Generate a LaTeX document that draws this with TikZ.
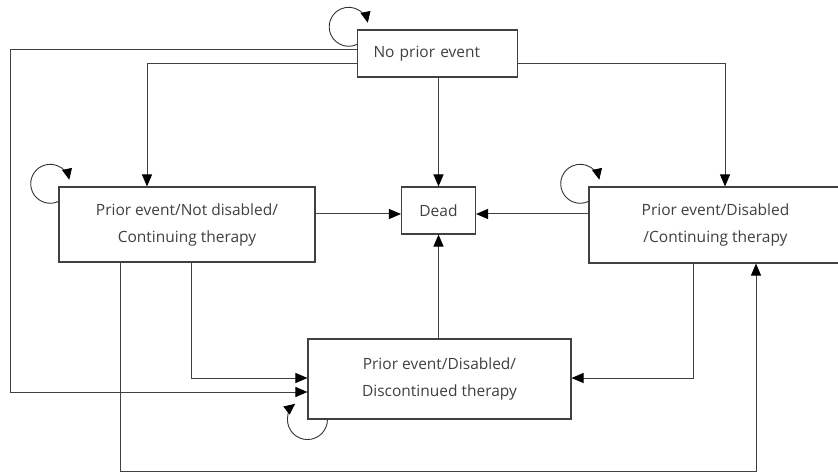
\documentclass[tikz,border=0pt]{standalone}
\usepackage{fontspec}
\setmainfont{Open Sans}
\usepackage{tikz}
\usetikzlibrary{arrows.meta}

\begin{document}
\begin{tikzpicture}[x=1pt,y=1pt,
  state/.style={draw=black!75,line width=1.1pt,fill=white,align=center,
    text=black!75,inner sep=0pt,font=\fontsize{15.5}{27}\selectfont},
  tr/.style={draw=black!75,line width=1pt,-{Triangle[length=12pt,width=10pt,black]}},
  selfloop/.style={draw=black!80,line width=0.9pt,-{Triangle[length=11pt,width=10pt,black]}}]
  \useasboundingbox (0,0) rectangle (838,472);
  % states
  \node[state,minimum width=160pt,minimum height=47pt,align=left,text width=128pt,inner xsep=16pt]
    (noevent) at (437.5,418.5) {No prior event};
  \node[state,minimum width=74pt,minimum height=47pt] (dead) at (438.5,261.5) {Dead};
  \node[state,minimum width=256pt,minimum height=75pt] (pnd) at (187,247.5)
    {Prior event/Not disabled/\\Continuing therapy};
  \node[state,minimum width=253pt,minimum height=76pt] (pdc) at (715.5,247)
    {Prior event/Disabled\\/Continuing therapy};
  \node[state,minimum width=263pt,minimum height=80pt] (pdd) at (439.5,93)
    {Prior event/Disabled/\\Discontinued therapy};
  \coordinate (dw) at ([yshift=-3.5pt]dead.west);
  % self transitions
  \foreach \s in {noevent,pnd,pdc}
    \draw[selfloop] ([yshift=-15pt]\s.north west) arc[start angle=-65,end angle=-348,radius=19.5pt];
  \draw[selfloop] ([xshift=20pt]pdd.south west) arc[start angle=0,end angle=-232,radius=20pt];
  % transitions
  \draw[tr] ([yshift=3.5pt]noevent.west) -- ++(-346pt,0) |- ([yshift=-13pt]pdd.west);
  \draw[tr] ([yshift=-10pt]noevent.west) -| ([xshift=-40pt]pnd.north);
  \draw[tr] ([yshift=-10pt]noevent.east) -| ([xshift=9.5pt]pdc.north);
  \draw[tr] (noevent.south -| dead.north) -- (dead.north);
  \draw[tr] (pnd.east |- dw) -- (dw);
  \draw[tr] (pdc.west |- dw) -- (dead.east |- dw);
  \draw[tr] (pdd.north -| dead.south) -- (dead.south);
  \draw[tr] ([xshift=4pt]pnd.south) |- ([yshift=1pt]pdd.west);
  \draw[tr] ([xshift=-22.5pt]pdc.south) |- ([yshift=1pt]pdd.east);
  \draw[tr] ([xshift=-67pt]pnd.south) -- ++(0,-209pt) -| ([xshift=40.5pt]pdc.south);
\end{tikzpicture}
\end{document}
